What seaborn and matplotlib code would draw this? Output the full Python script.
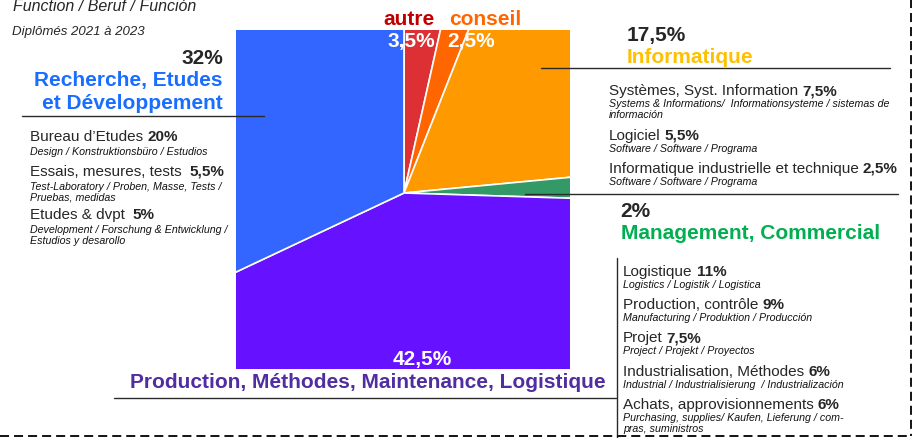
import seaborn as sns
import matplotlib.pyplot as plt
from matplotlib.patches import Rectangle

sns.set_style("white")
plt.rcParams["font.family"] = ["Liberation Sans", "DejaVu Sans"]
plt.rcParams["lines.scale_dashes"] = False

# main functions (share of graduates, %)
groups = ["autre", "conseil", "Informatique", "Management, Commercial",
          "Production, Méthodes, Maintenance, Logistique",
          "Recherche, Etudes\net Développement"]
shares = [3.5, 2.5, 17.5, 2, 42.5, 32]
slice_colors = ["#dc3035", "#ff6600", "#ff9900", "#339966", "#6611ff", "#3366ff"]
text_colors = ["#c00000", "#ff6600", "#ffc000", "#00b050", "#502da0", "#1a6eff"]

# Recherche, Etudes et Développement
rd_items = ["Bureau d’Etudes", "Essais, mesures, tests ", "Etudes & dvpt "]
rd_values = [20, 5.5, 5]
rd_sub = ["Design / Konstruktionsbüro / Estudios",
          "Test-Laboratory / Proben, Masse, Tests /\nPruebas, medidas",
          "Development / Forschung & Entwicklung /\nEstudios y desarollo"]

# Informatique
it_items = ["Systèmes, Syst. Information", "Logiciel",
            "Informatique industrielle et technique"]
it_values = [7.5, 5.5, 2.5]
it_sub = ["Systems & Informations/  Informationsysteme / sistemas de\ninformación",
          "Software / Software / Programa",
          "Software / Software / Programa"]

# Production, Méthodes, Maintenance, Logistique
prod_items = ["Logistique", "Production, contrôle", "Projet",
              "Industrialisation, Méthodes", "Achats, approvisionnements"]
prod_values = [11, 9, 7.5, 6, 6]
prod_sub = ["Logistics / Logistik / Logistica",
            "Manufacturing / Produktion / Producción",
            "Project / Projekt / Proyectos",
            "Industrial / Industrialisierung  / Industrialización",
            "Purchasing, supplies/ Kaufen, Lieferung / com-\npras, suministros"]


def pct(v):
    return f"{v:g}".replace(".", ",") + "%"


fig = plt.figure(figsize=(9.13, 4.39), dpi=100)
ax = fig.add_axes([0, 0, 1, 1])

# big pie, cut by the square frame
wedges, _ = ax.pie(shares, colors=slice_colors, center=(404, 194), radius=700,
                   startangle=-90, counterclock=True,
                   wedgeprops=dict(edgecolor="white", linewidth=1.2))
frame = Rectangle((236, 31), 334, 339, transform=ax.transData)
for w in wedges:
    w.set_clip_on(True)
    w.set_clip_path(frame)

ax.set_xlim(0, 913)
ax.set_ylim(439, 0)
ax.set_aspect("auto")
ax.axis("off")

renderer = fig.canvas.get_renderer()


def block(x, ys, sub_dy, names, values, subs):
    for y, name, val, sub in zip(ys, names, values, subs):
        t = ax.text(x, y, name.rstrip(), fontsize=11, va="baseline")
        x1 = t.get_window_extent(renderer).x1
        gap = 4 * (len(name) - len(name.rstrip()) + 1)
        ax.text(x1 + gap, y, pct(val), fontsize=11, fontweight="bold", va="baseline")
        for k, line in enumerate(sub.split("\n")):
            ax.text(x, y + sub_dy + 11 * k, line, fontsize=7.7, style="italic",
                    va="baseline", color="#111111")


# titles
ax.text(13, 11, "Function / Beruf / Función", fontsize=11.5, style="italic", va="baseline")
ax.text(12, 35, "Diplômés 2021 à 2023", fontsize=9.5, style="italic", va="baseline")

# small slices on top
ax.text(409, 25, groups[0], fontsize=15, fontweight="bold", color=text_colors[0], ha="center", va="baseline")
ax.text(485, 25, groups[1], fontsize=15, fontweight="bold", color=text_colors[1], ha="center", va="baseline")
ax.text(411, 47, pct(shares[0]), fontsize=15, fontweight="bold", color="white", ha="center", va="baseline")
ax.text(471, 47, pct(shares[1]), fontsize=15, fontweight="bold", color="white", ha="center", va="baseline")

# Recherche
ax.text(223, 64, pct(shares[5]), fontsize=15, fontweight="bold", ha="right", va="baseline")
for k, line in enumerate(groups[5].split("\n")):
    ax.text(223, 86 + 23.5 * k, line, fontsize=15, fontweight="bold",
            color=text_colors[5], ha="right", va="baseline")
block(30, [141, 176, 219], 14, rd_items, rd_values, rd_sub)

# Informatique
ax.text(627, 41, pct(shares[2]), fontsize=15, fontweight="bold", va="baseline")
ax.text(627, 63, groups[2], fontsize=15, fontweight="bold", color=text_colors[2], va="baseline")
block(609, [95, 140, 173], 12, it_items, it_values, it_sub)

# Management
ax.text(620, 217, pct(shares[3]), fontsize=15, fontweight="bold", va="baseline")
ax.text(621, 239, groups[3], fontsize=15, fontweight="bold", color=text_colors[3], va="baseline")

# Production
ax.text(422, 365, pct(shares[4]), fontsize=15, fontweight="bold", color="white", ha="center", va="baseline")
ax.text(368, 388, groups[4], fontsize=15, fontweight="bold", color=text_colors[4], ha="center", va="baseline")
block(623, [276, 309, 342.5, 376, 409.5], 12, prod_items, prod_values, prod_sub)

# leader lines
lk = dict(color="#2a2a2a", lw=1.0)
ax.plot([22, 264], [117, 117], **lk)
ax.plot([541, 890], [68.5, 68.5], **lk)
ax.plot([525, 898], [195, 195], **lk)
ax.plot([114, 616], [399.5, 399.5], **lk)
ax.plot([616.5, 616.5], [259, 439], **lk)

# dashed frame
dk = dict(color="black", lw=1.3, dashes=(6.5, 3.6))
ax.plot([910.5, 910.5], [0, 437.5], **dk)
ax.plot([0, 910.5], [437.5, 437.5], **dk)

fig.savefig("out.png", dpi=100)
